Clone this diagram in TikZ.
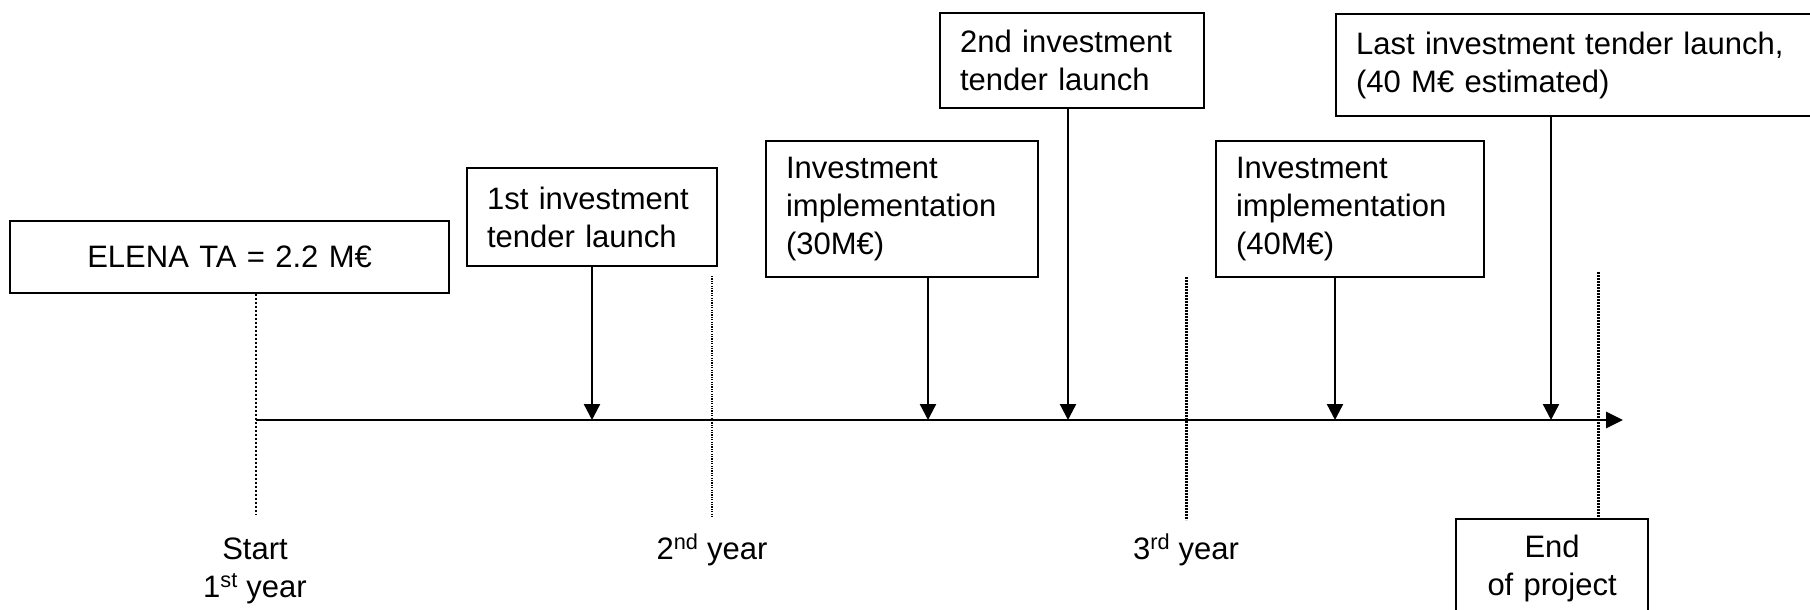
\documentclass[tikz,border=0pt]{standalone}
\usepackage{fontspec}
\setmainfont{Liberation Sans}
\usetikzlibrary{arrows.meta}
\begin{document}
\begin{tikzpicture}[x=1pt,y=-1pt,
  every node/.style={font=\fontsize{31}{38}\selectfont},
  box/.style={draw, line width=2.2pt, rectangle, inner ysep=0pt, anchor=north west},
  lbox/.style={box, align=left, inner xsep=20pt},
  cbox/.style={box, align=center, inner xsep=0pt},
  arr/.style={line width=2.3pt, -{Triangle[length=16pt,width=16pt]}},
  axisline/.style={line width=2.8pt, -{Triangle[length=17pt,width=16pt]}},
  thickdot/.style={line width=2.5pt, dash pattern=on 2pt off 2pt},
  thindot/.style={line width=1.2pt, dash pattern=on 1.2pt off 1.2pt},
  densedot/.style={line width=3pt, dash pattern=on 2pt off 1pt},
  lbl/.style={anchor=base, inner sep=0pt}
]
\useasboundingbox (0,0) rectangle (1810,610);
\clip (0,0) rectangle (1810,610);

% boxes
\node[cbox, text width=439pt, minimum height=72pt] (elena) at (9,220) {ELENA TA = 2.2 M€};
\node[lbox, text width=210pt, minimum height=98pt] (t1) at (466,167) {1st investment\\tender launch};
\node[lbox, text width=232pt, minimum height=136pt] (inv30) at (765,140) {Investment\\implementation\\(30M€)};
\node[lbox, text width=224pt, minimum height=95pt] (t2) at (939,12) {2nd investment\\tender launch};
\node[lbox, text width=228pt, minimum height=136pt] (inv40) at (1215,140) {Investment\\implementation\\(40M€)};
\node[lbox, text width=440pt, minimum height=102pt] (last) at (1335,13) {Last investment tender launch,\\(40 M€ estimated)};
\node[cbox, text width=192pt, minimum height=98pt] (endp) at (1455,518) {End\\of project};

% axis
\coordinate (ax0) at (256,420);
\coordinate (ax1) at (1623,420);
\draw[axisline] (ax0) -- (ax1);

% arrow targets on axis
\coordinate (p1) at (592,420);
\coordinate (p2) at (928,420);
\coordinate (p3) at (1068,420);
\coordinate (p4) at (1335,420);
\coordinate (p5) at (1551,420);
\draw[arr] (t1.south -| p1) -- (p1);
\draw[arr] (inv30.south -| p2) -- (p2);
\draw[arr] (t2.south -| p3) -- (p3);
\draw[arr] (inv40.south -| p4) -- (p4);
\draw[arr] (last.south -| p5) -- (p5);

% year markers
\coordinate (s0) at (256,515);
\draw[thickdot] (elena.south -| s0) -- (s0);
\coordinate (y2a) at (712,276);
\coordinate (y2b) at (712,517);
\draw[thindot] (y2a) -- (y2b);
\coordinate (y3a) at (1186,277);
\coordinate (y3b) at (1186,520);
\draw[densedot] (y3a) -- (y3b);
\coordinate (e0) at (1598,272);
\draw[densedot] (e0) -- (endp.north -| e0);

% labels
\node[lbl] (lstart) at (255,559) {Start};
\node[lbl] (l1st) at (255,597) {1\textsuperscript{st} year};
\node[lbl] (l2nd) at (712,559) {2\textsuperscript{nd} year};
\node[lbl] (l3rd) at (1186,559) {3\textsuperscript{rd} year};
\end{tikzpicture}
\end{document}
